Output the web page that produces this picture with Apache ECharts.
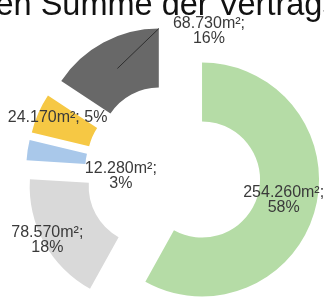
<!DOCTYPE html>
<html>
<head>
<meta charset="utf-8">
<script src="https://cdn.jsdelivr.net/npm/echarts@6/dist/echarts.min.js"></script>
<style>
  html, body { margin: 0; padding: 0; background: #fff; }
  #chart { width: 324px; height: 298px; }
</style>
</head>
<body>
<div id="chart"></div>
<script>
const titleText = 'Flächen Summe der Vertragsflächen'
const names = ['A', 'B', 'C', 'D', 'E']
const areas = [254260, 78570, 12280, 24170, 68730]
const colors = ['#b5dca6', '#d9d9d9', '#a9c8ea', '#f6c844', '#686868']

// label nudges from the default inside spot
const labelShift = [[-6, -2], [-20, 10], [67, 22], [-5, -6], [93, -35]]
const OFFSET = 30

function fmtArea(v) {
  return String(v).replace(/\B(?=(\d{3})+(?!\d))/g, '.')
}

const chart = echarts.init(document.getElementById('chart'), null, { renderer: 'canvas' })

chart.setOption({
  animation: false,
  title: {
    text: titleText,
    left: -84,
    top: -10,
    padding: 0,
    textStyle: { fontFamily: 'Liberation Sans', fontSize: 32.5, fontWeight: 400, color: '#111' },
  },
  series: [{
    type: 'pie',
    center: [173, 172],
    radius: [58, 117],
    startAngle: 90,
    clockwise: true,
    selectedMode: 'multiple',
    selectedOffset: OFFSET,
    avoidLabelOverlap: false,
    percentPrecision: 0,
    emphasis: { disabled: true },
    label: {
      position: 'inside',
      fontFamily: 'Liberation Sans',
      fontSize: 16,
      lineHeight: 15,
      color: '#3a3a3a',
      formatter: (p) => {
        const sep = p.dataIndex === 3 ? ' ' : '\n'
        return fmtArea(p.value) + 'm²;' + sep + p.percent + '%'
      },
    },
    labelLine: { show: false },
    labelLayout: (p) => {
      const s = labelShift[p.dataIndex]
      return { dx: s[0], dy: s[1] }
    },
    data: areas.map((v, i) => ({
      name: names[i], value: v, selected: true, itemStyle: { color: colors[i] },
    })),
  }],
})

// leader line for the last slice: from its middle to its outer top corner
const lay = chart.getModel().getSeriesByIndex(0).getData().getItemLayout(4)
const mid = (lay.startAngle + lay.endAngle) / 2
const ox = lay.cx + Math.cos(mid) * OFFSET
const oy = lay.cy + Math.sin(mid) * OFFSET
const rm = (lay.r + lay.r0) / 2
const edge = Math.sin(lay.startAngle) < Math.sin(lay.endAngle) ? lay.startAngle : lay.endAngle
chart.setOption({
  graphic: [{
    type: 'line',
    silent: true,
    z: 100,
    shape: {
      x1: ox + Math.cos(mid) * rm, y1: oy + Math.sin(mid) * rm,
      x2: ox + Math.cos(edge) * lay.r, y2: oy + Math.sin(edge) * lay.r,
    },
    style: { stroke: '#2e2e2e', lineWidth: 1 },
  }],
})
</script>
</body>
</html>
